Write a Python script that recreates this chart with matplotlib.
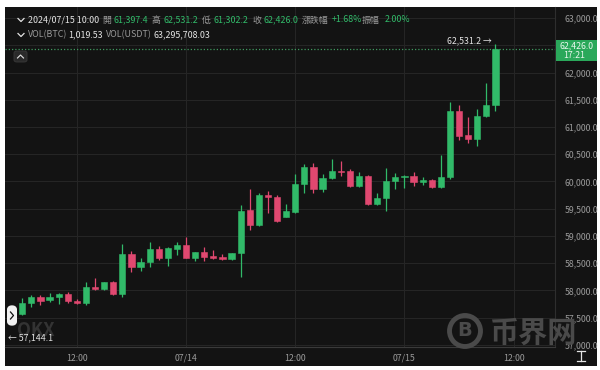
import matplotlib
matplotlib.use("Agg")
import matplotlib.pyplot as plt
import matplotlib.dates as mdates
from matplotlib.patches import Rectangle, FancyBboxPatch, Circle
from matplotlib.lines import Line2D
from matplotlib.ticker import FixedLocator, FuncFormatter
import numpy as np
import pandas as pd

plt.rcParams['font.family'] = ['Noto Sans CJK TC', 'DejaVu Sans']

# ---- data (hourly BTC/USDT candles) ----
times = pd.date_range('2024-07-13 06:00', periods=53, freq='h')
opens = [57569, 57765, 57886, 57820, 57875, 57930, 57807, 57765, 58070, 58022,
         58150, 57936, 58664, 58426, 58523, 58761, 58591, 58770, 58835, 58602,
         58701, 58633, 58620, 58578, 58682, 59477, 59196, 59752, 59710, 59354,
         59446, 59954, 60272, 59868, 60059, 60198, 60190, 59923, 60101, 59587,
         59692, 60018, 60083, 60105, 59996, 60027, 59899, 60083, 61294, 60853,
         60780, 61207, 61397.4]
highs = [57868, 57912, 57917, 57954, 57948, 57978, 57844, 58161, 58235, 58161,
         58174, 58853, 58725, 58591, 58895, 58822, 58804, 58884, 58976, 58712,
         58793, 58743, 58670, 58690, 59563, 59862, 59783, 59831, 59752, 59582,
         60132, 60321, 60334, 60138, 60413, 60382, 60229, 60169, 60119, 59783,
         60242, 60150, 60119, 60180, 60077, 60040, 60486, 61459, 61404, 61189,
         61325, 61813, 62531.2]
lows = [57550, 57692, 57734, 57783, 57747, 57776, 57747, 57734, 58004, 58004,
        57917, 57886, 58339, 58363, 58426, 58560, 58449, 58651, 58591, 58541,
        58547, 58578, 58560, 58560, 58253, 59119, 59183, 59416, 59262, 59343,
        59416, 59783, 59783, 59813, 60040, 60101, 59905, 59905, 59569, 59570,
        59464, 59868, 59886, 59912, 59936, 59875, 59875, 60040, 60761, 60701,
        60651, 61178, 61302.2]
closes = [57765, 57886, 57813, 57881, 57930, 57802, 57765, 58059, 58022, 58150,
          57930, 58664, 58422, 58523, 58761, 58591, 58785, 58835, 58602, 58701,
          58620, 58591, 58578, 58682, 59464, 59196, 59752, 59710, 59275, 59459,
          59954, 60272, 59868, 60059, 60193, 60180, 59923, 60101, 59587, 59692,
          60009, 60083, 60101, 59996, 60027, 59899, 60083, 61294, 60840, 60780,
          61207, 61397.4, 62426.0]

y_ticks = [57000, 57500, 58000, 58500, 59000, 59500, 60000, 60500,
           61000, 61500, 62000, 62500, 63000]
hidden_y_label = 62500  # covered by the last-price box in the reference
x_tick_times = pd.to_datetime(['2024-07-13 12:00', '2024-07-14 00:00', '2024-07-14 12:00',
                               '2024-07-15 00:00', '2024-07-15 12:00'])
x_tick_labels = ['12:00', '07/14', '12:00', '07/15', '12:00']

header_row1 = [
    ('2024/07/15 10:00', 'w'), ('開', 'g'), ('61,397.4', 'v'), ('高', 'g'), ('62,531.2', 'v'),
    ('低', 'g'), ('61,302.2', 'v'), ('收', 'g'), ('62,426.0', 'v'), ('漲跌幅', 'g'),
    ('+1.68%', 'v'), ('振幅', 'g'), ('2.00%', 'v')]
header_row1_x = [28, 102, 113, 152, 163, 202, 213, 252, 263, 302, 332, 362, 385]
header_row2 = [('VOL(BTC)', 'g'), ('1,019.53', 'w'), ('VOL(USDT)', 'g'), ('63,295,708.03', 'w')]
header_row2_x = [28, 68, 106, 154]

last_price = 62426.0
last_time_label = '17:21'
high_label = '62,531.2'
low_label = '57,144.1'

# ---- styling ----
BG = '#131313'
GRID = '#252525'
GREEN = '#31ba69'
RED = '#e04870'
LABEL = '#9a9a9a'
WHITE = '#e4e4e4'

W, H = 600, 370
fig = plt.figure(figsize=(6, 3.7), dpi=100, facecolor='white')


def fx(x):
    return x / W


def fy(y):
    return 1 - y / H


fig.patches.append(Rectangle((fx(5), fy(366)), fx(592), 359 / H, transform=fig.transFigure,
                             facecolor=BG, edgecolor='none', zorder=-5))

ax = fig.add_axes([fx(5), fy(347), 550 / W, 340 / H])
ax.set_facecolor(BG)

t0 = times[0]
hour = pd.Timedelta(hours=1)
ax.set_xlim(mdates.date2num(t0 - 1.9 * hour), mdates.date2num(t0 + 58.54 * hour))
ax.set_ylim(56963, 63202)

xs = mdates.date2num(times)
o = np.array(opens)
c = np.array(closes)
hi = np.array(highs)
lo = np.array(lows)
up = c >= o
cols = np.where(up, GREEN, RED)
body_bot = np.minimum(o, c)
body_h = np.maximum(np.abs(c - o), 14)
ax.vlines(xs, lo, hi, colors=cols, linewidth=0.9, zorder=3)
ax.bar(xs, body_h, bottom=body_bot, width=0.68 / 24, color=cols, edgecolor=cols,
       linewidth=0.4, zorder=4)

# grid
ax.xaxis.set_major_locator(FixedLocator(mdates.date2num(x_tick_times)))
ax.set_xticklabels(x_tick_labels)
ax.yaxis.set_major_locator(FixedLocator(y_ticks))
ax.yaxis.set_major_formatter(FuncFormatter(
    lambda v, p: '' if abs(v - hidden_y_label) < 1 else f'{v:,.1f}'))
ax.yaxis.tick_right()
ax.grid(True, color=GRID, linewidth=0.8, zorder=0)
ax.set_axisbelow(True)
ax.tick_params(axis='both', length=0, colors=LABEL, labelsize=6.3)
ax.tick_params(axis='y', pad=7)
ax.tick_params(axis='x', pad=5)
for s in ['left', 'top']:
    ax.spines[s].set_visible(False)
ax.spines['right'].set_color('#2e2e2e')
ax.spines['bottom'].set_color('#3a3a3a')

# current price dotted line
ax.axhline(last_price, color='#3f9a5f', linewidth=0.9, linestyle=(0, (1, 1.6)), zorder=2)

# high label of last candle
ax.annotate(high_label + ' →', xy=(xs[-1], highs[-1]), xytext=(-3, 2), textcoords='offset points',
            ha='right', va='center', color=WHITE, fontsize=6.3, zorder=6)
# low label
fig.text(fx(8), fy(338), '← ' + low_label, color=WHITE, fontsize=6.3, va='center', ha='left',
         zorder=7)

# price box on right
fig.patches.append(Rectangle((fx(556), fy(61)), fx(41), 21 / H, transform=fig.transFigure,
                             facecolor='#2aa85a', edgecolor='none', zorder=5))
fig.text(fx(594), fy(45.5), f'{last_price:,.1f}', color='#eaf7ee', fontsize=6.3,
         ha='right', va='center', zorder=6)
fig.text(fx(563), fy(55.5), last_time_label, color='#eaf7ee', fontsize=6.3,
         ha='left', va='center', zorder=6)

# header
colmap = {'w': WHITE, 'g': LABEL, 'v': GREEN}
for (txt, k), x in zip(header_row1, header_row1_x):
    fig.text(fx(x), fy(20), txt, color=colmap[k], fontsize=6.4, ha='left', va='center')
for (txt, k), x in zip(header_row2, header_row2_x):
    fig.text(fx(x), fy(35), txt, color=colmap[k], fontsize=6.4, ha='left', va='center')
for yy in (20, 35):
    fig.lines.append(Line2D([fx(18), fx(21), fx(24)], [fy(yy - 1.5), fy(yy + 1.5), fy(yy - 1.5)],
                            transform=fig.transFigure, color=WHITE, linewidth=0.9))

# small collapse button
fig.patches.append(FancyBboxPatch((fx(14), fy(62)), fx(13), 11 / H,
                                  boxstyle='round,pad=0,rounding_size=0.005',
                                  transform=fig.transFigure, facecolor='#2a2a2a',
                                  edgecolor='#3a3a3a', linewidth=0.6, zorder=5))
fig.lines.append(Line2D([fx(17.5), fx(20.5), fx(23.5)], [fy(58), fy(55), fy(58)],
                        transform=fig.transFigure, color=WHITE, linewidth=0.8, zorder=6))

# left arrow button
fig.patches.append(FancyBboxPatch((fx(7), fy(326)), fx(10), 21 / H,
                                  boxstyle='round,pad=0,rounding_size=0.012',
                                  transform=fig.transFigure, facecolor='#f2f2f2',
                                  edgecolor='none', zorder=5))
fig.lines.append(Line2D([fx(10.5), fx(13.5), fx(10.5)], [fy(312), fy(315.5), fy(319)],
                        transform=fig.transFigure, color='#111111', linewidth=0.9, zorder=6))

# watermarks
fig.text(fx(17), fy(330), 'OKX', color='#333333', fontsize=13, fontweight='bold',
         ha='left', va='center', zorder=1)
fig.patches.append(Circle((4.65, (H - 331) / 100), 0.155, transform=fig.dpi_scale_trans,
                          facecolor='none', edgecolor='#4a4a4a', linewidth=3.5, zorder=1))
fig.text(fx(465), fy(331), 'B', color='#4a4a4a', fontsize=14, fontweight='bold',
         ha='center', va='center', family='DejaVu Sans', zorder=1)
fig.text(fx(489), fy(333), '币界网', color='#4a4a4a', fontsize=21, fontweight='bold',
         ha='left', va='center', family=['Noto Sans CJK SC', 'DejaVu Sans'], zorder=1)

# cursor icon bottom right
for seg in ([(577, 351), (585, 351)], [(577, 361), (585, 361)], [(581, 351), (581, 361)]):
    fig.lines.append(Line2D([fx(seg[0][0]), fx(seg[1][0])], [fy(seg[0][1]), fy(seg[1][1])],
                            transform=fig.transFigure, color=WHITE, linewidth=0.9))

fig.savefig('out.png', dpi=100, facecolor='white')
